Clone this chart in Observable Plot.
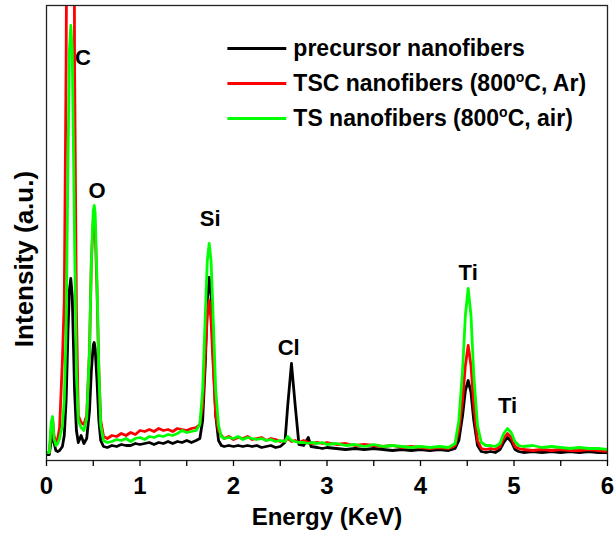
<!DOCTYPE html>
<html>
<head>
<meta charset="utf-8">
<script src="https://cdn.jsdelivr.net/npm/d3@7"></script>
<script src="https://cdn.jsdelivr.net/npm/@observablehq/plot@0.6"></script>
<style>
  html, body { margin: 0; padding: 0; background: #fff; }
  #chart { width: 616px; height: 537px; }
</style>
</head>
<body>
<div id="chart"></div>
<script>
// Energy axis (KeV)
const energy = [
  0.00,0.03,0.05,0.065,0.08,0.10,0.12,0.14,0.17,0.19,
  0.21,0.23,0.245,0.26,0.275,0.29,0.30,0.32,0.34,0.37,
  0.40,0.43,0.46,0.48,0.50,0.51,0.52,0.54,0.56,0.58,
  0.61,0.65,0.70,0.75,0.80,0.85,0.90,0.95,1.00,1.05,
  1.10,1.15,1.20,1.25,1.30,1.35,1.40,1.45,1.50,1.55,
  1.60,1.64,1.67,1.70,1.72,1.74,1.76,1.78,1.81,1.84,
  1.87,1.90,1.95,2.00,2.05,2.10,2.15,2.20,2.25,2.30,
  2.35,2.40,2.45,2.50,2.55,2.58,2.62,2.66,2.70,2.75,
  2.80,2.83,2.90,2.95,3.00,3.10,3.20,3.30,3.40,3.50,
  3.60,3.70,3.80,3.90,4.00,4.10,4.20,4.30,4.37,4.41,
  4.45,4.48,4.51,4.54,4.57,4.61,4.65,4.70,4.75,4.80,
  4.85,4.89,4.93,4.97,5.01,5.05,5.10,5.20,5.30,5.40,
  5.50,5.60,5.70,5.80,5.90,6.00
];
// Intensity (a.u.) per sample
const precursor = [
  6,6,20,35,18,10,9,10,14,25,
  60,130,170,182,165,110,70,30,18,25,
  17,22,50,90,115,118,112,80,40,20,
  14,13,15,14,16,15,15,17,16,17,
  18,16,18,17,19,17,19,18,20,18,
  20,22,40,100,160,183,165,110,45,20,
  15,14,15,14,15,14,15,14,15,13,
  14,15,13,14,18,55,97,55,16,15,
  23,14,13,12,13,12,11,12,11,12,
  11,10,11,10,11,10,11,10,12,20,
  45,70,80,68,40,15,9,8,9,8,
  11,18,23,19,11,9,8,9,8,9,
  8,9,8,9,8,8
];
const tscAr = [
  8,8,30,42,25,18,22,33,100,160,
  400,800,1000,1050,1000,800,400,150,45,38,
  36,45,110,200,240,245,235,170,90,40,
  24,22,25,24,27,25,28,26,30,29,
  31,29,32,30,31,29,32,31,30,32,
  33,36,55,110,145,160,140,100,45,30,
  25,22,24,21,23,22,24,21,22,23,
  20,22,21,19,20,22,19,20,18,20,
  18,17,18,17,18,16,17,15,16,15,
  14,15,13,14,13,12,13,12,15,30,
  60,95,115,95,55,20,12,11,12,11,
  14,22,27,23,14,12,11,10,11,10,
  11,10,10,11,10,9
];
const tsAir = [
  8,8,38,44,22,15,17,22,35,60,
  130,300,410,435,410,300,220,90,40,33,
  30,42,110,200,250,255,248,180,90,35,
  20,18,19,21,20,22,19,22,23,21,
  24,23,25,24,26,25,27,30,28,29,
  30,36,70,150,200,217,200,150,70,35,
  24,22,23,22,24,21,23,22,21,22,
  20,21,19,20,19,24,20,19,18,18,
  17,18,17,18,16,17,15,16,14,16,
  14,15,14,13,14,13,14,13,17,40,
  90,145,172,145,85,35,18,15,15,14,
  17,27,32,28,19,15,14,15,13,14,
  13,12,13,12,12,11
];
const seriesNames = ["precursor nanofibers", "TSC nanofibers (800°C, Ar)", "TS nanofibers (800°C, air)"];
const seriesColors = ["#000000", "#ff0000", "#00ff00"];
const seriesValues = [precursor, tscAr, tsAir];

// Peak labels
const peakLabels = ["C", "O", "Si", "Cl", "Ti", "Ti"];
const peakEnergy = [0.39, 0.54, 1.75, 2.59, 4.51, 4.93];
const peakIntensity = [403, 270, 242, 113, 188, 55];

// Axis ticks
const xTicks = [0, 1, 2, 3, 4, 5, 6];
const xMinorTicks = [0.5, 1.5, 2.5, 3.5, 4.5, 5.5];
const xLabel = "Energy (KeV)";
const yLabel = "Intensity (a.u.)";

// Legend placement (in data units)
const legendY = [412, 377, 342];
const legendX1 = 1.94, legendX2 = 2.57, legendTextX = 2.64;

const rows = seriesNames.flatMap((name, s) =>
  energy.map((e, i) => ({energy: e, intensity: seriesValues[s][i], series: name, color: seriesColors[s]})));
const peaks = peakLabels.map((t, i) => ({label: t, x: peakEnergy[i], y: peakIntensity[i]}));
const legend = seriesNames.map((n, i) => ({name: n, color: seriesColors[i], y: legendY[i]}));

const font = "'Liberation Sans', Arial, Helvetica, sans-serif";

const chart = Plot.plot({
  width: 616,
  height: 537,
  marginLeft: 46,
  marginRight: 9,
  marginTop: 5,
  marginBottom: 77,
  style: {fontFamily: font, background: "#fff", color: "#000"},
  x: {domain: [0, 6]},
  y: {domain: [0, 455], axis: null},
  marks: [
    Plot.line(rows, {x: "energy", y: "intensity", z: "series", stroke: "color", strokeWidth: 2.8, strokeLinejoin: "round", clip: true}),
    Plot.frame({stroke: "#222", strokeWidth: 1.3}),
    Plot.axisX({ticks: xTicks, tickSize: 6, tickPadding: 10, fontSize: 24, fontWeight: "bold", label: null, tickFormat: d => String(d), strokeWidth: 1.3}),
    Plot.axisX({ticks: xMinorTicks, tickSize: 6, tickFormat: () => "", label: null, strokeWidth: 1.3}),
    Plot.text([xLabel], {frameAnchor: "bottom", dy: 64, fontSize: 24, fontWeight: "bold", fill: "#000"}),
    Plot.text(peaks, {x: "x", y: "y", text: "label", fontSize: 22, fontWeight: "bold", fill: "#000"}),
    Plot.ruleY(legend, {y: "y", x1: legendX1, x2: legendX2, stroke: "color", strokeWidth: 3}),
    Plot.text(legend, {x: legendTextX, y: "y", text: "name", textAnchor: "start", fontSize: 23, fontWeight: "bold", fill: "#000"})
  ]
});

document.getElementById("chart").appendChild(chart);

// Y-axis title, rotated, at the left of the frame
d3.select(chart).append("text")
  .attr("transform", "translate(33,259) rotate(-90)")
  .attr("text-anchor", "middle")
  .attr("font-family", font)
  .attr("font-size", 26)
  .attr("font-weight", "bold")
  .attr("fill", "#000")
  .text(yLabel);

// Render "°C" as a superscript "o" followed by C
d3.select(chart).selectAll("text").each(function () {
  const t = this.textContent;
  if (t.includes("°")) {
    const [a, b] = t.split("°");
    const sel = d3.select(this);
    sel.text(null);
    sel.append("tspan").text(a);
    sel.append("tspan").attr("dy", "-9").attr("font-size", 14).text("o");
    sel.append("tspan").attr("dy", "9").text(b);
  }
});
</script>
</body>
</html>
